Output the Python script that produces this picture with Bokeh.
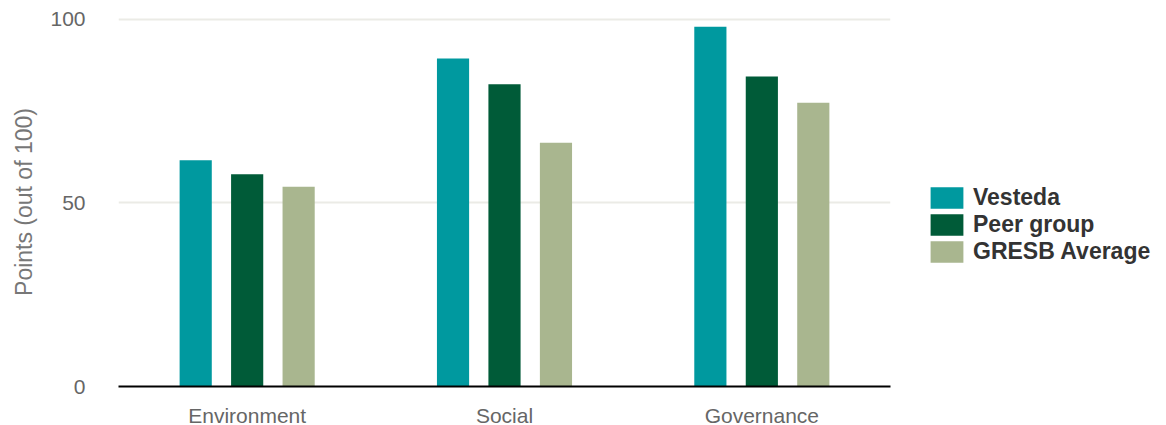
from bokeh.plotting import figure
from bokeh.models import ColumnDataSource, FactorRange, Range1d, Legend, LegendItem, FixedTicker
from bokeh.transform import dodge
from bokeh.embed import file_html
from bokeh.resources import INLINE

categories = ["Environment", "Social", "Governance"]
vesteda = [61.6, 89.3, 98.0]
peer_group = [57.8, 82.3, 84.4]
gresb_average = [54.4, 66.4, 77.3]
series_names = ["Vesteda", "Peer group", "GRESB Average"]
y_ticks = [0, 50, 100]

colors = ["#00999f", "#005b38", "#a9b68f"]

source = ColumnDataSource(data=dict(cat=categories, v=vesteda, p=peer_group, g=gresb_average))

p = figure(
    x_range=FactorRange(*categories),
    y_range=Range1d(0, 100.5),
    frame_width=772, frame_height=369,
    min_border_left=118, min_border_right=276, min_border_top=17, min_border_bottom=39,
    output_backend="svg", toolbar_location=None,
)
p.outline_line_color = None
p.background_fill_color = "white"

bw = 0.125
r1 = p.vbar(x=dodge("cat", -0.2, range=p.x_range), top="v", width=bw, source=source,
            fill_color=colors[0], line_color=None)
r2 = p.vbar(x=dodge("cat", 0.0, range=p.x_range), top="p", width=bw, source=source,
            fill_color=colors[1], line_color=None)
r3 = p.vbar(x=dodge("cat", 0.2, range=p.x_range), top="g", width=bw, source=source,
            fill_color=colors[2], line_color=None)

# grids
p.xgrid.grid_line_color = None
p.ygrid.grid_line_color = "#ebebe6"
p.ygrid.grid_line_width = 2
p.ygrid.ticker = FixedTicker(ticks=[50, 100])

# y axis
p.yaxis.ticker = FixedTicker(ticks=y_ticks)
p.yaxis.axis_line_color = None
p.yaxis.major_tick_line_color = None
p.yaxis.minor_tick_line_color = None
p.yaxis.major_label_standoff = 27
p.yaxis.major_label_text_font = "Liberation Sans"
p.yaxis.major_label_text_font_size = "21px"
p.yaxis.major_label_text_color = "#666666"
p.yaxis.axis_label = "Points (out of 100)"
p.yaxis.axis_label_text_font = "Liberation Sans"
p.yaxis.axis_label_text_font_size = "23px"
p.yaxis.axis_label_text_font_style = "normal"
p.yaxis.axis_label_text_color = "#777777"
p.yaxis.axis_label_standoff = 10

# x axis
p.xaxis.axis_line_color = "black"
p.xaxis.axis_line_width = 2
p.xaxis.major_tick_line_color = None
p.xaxis.minor_tick_line_color = None
p.xaxis.major_label_standoff = 11
p.xaxis.major_label_text_font = "Liberation Sans"
p.xaxis.major_label_text_font_size = "21px"
p.xaxis.major_label_text_color = "#666666"

legend = Legend(
    items=[LegendItem(label=series_names[0], renderers=[r1]),
           LegendItem(label=series_names[1], renderers=[r2]),
           LegendItem(label=series_names[2], renderers=[r3])],
    location=(36, 121),
    orientation="vertical",
    padding=0, margin=0, spacing=0,
    glyph_width=41, glyph_height=27,
    label_height=27, label_standoff=6,
    label_text_font="Liberation Sans",
    label_text_font_size="23px",
    label_text_font_style="bold",
    label_text_color="#333333",
    border_line_color=None,
    background_fill_alpha=0,
)
p.add_layout(legend, "right")

open("out.html", "w").write(file_html(p, INLINE))
